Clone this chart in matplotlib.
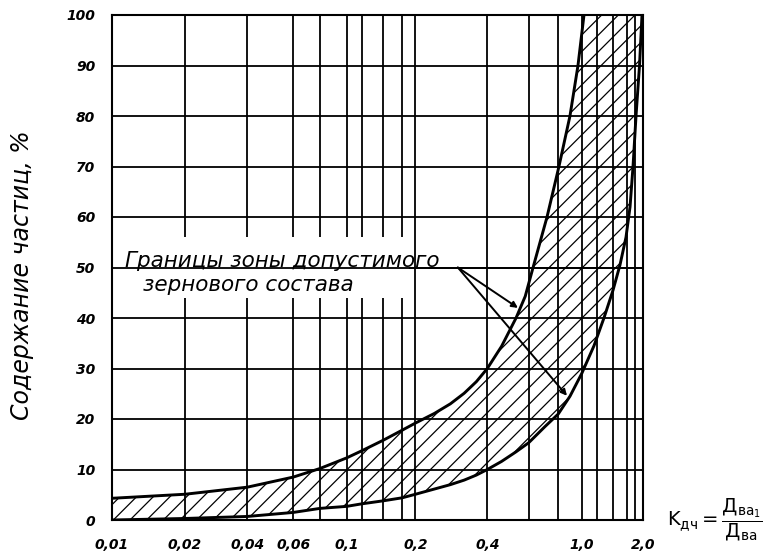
import numpy as np
import matplotlib
matplotlib.use("Agg")
import matplotlib.pyplot as plt
from matplotlib.patches import Rectangle

# boundary curves of the permissible zone
upper_x = [0.01, 0.02, 0.04, 0.06, 0.08, 0.1, 0.12, 0.15, 0.18, 0.2, 0.24, 0.28, 0.32,
           0.36, 0.4, 0.46, 0.53, 0.58, 0.626, 0.717, 0.805, 0.894, 0.965, 1.028]
upper_y = [4.3, 5.1, 6.5, 8.5, 10.2, 12.3, 13.7, 15.8, 17.8, 19.2, 21.1, 23.0, 25.1,
           27.4, 30, 34.4, 40, 44.3, 50, 60, 70, 80, 90, 100]

lower_x = [0.01, 0.02, 0.04, 0.06, 0.08, 0.1, 0.12, 0.15, 0.18, 0.2, 0.28, 0.32, 0.36,
           0.4, 0.46, 0.53, 0.6, 0.703, 0.8, 0.894, 1.0, 1.161, 1.285, 1.4, 1.5, 1.592,
           1.68, 1.751, 1.823, 1.906, 1.967]
lower_y = [0, 0.3, 0.7, 1.5, 2.3, 2.7, 3.2, 3.8, 4.4, 5.1, 7.0, 7.9, 8.9,
           10, 11.6, 13.5, 15.3, 18.5, 21, 24.5, 29, 34.5, 40, 45.5, 50.5, 56,
           62, 70, 80, 90, 100]

x_major = [0.01, 0.02, 0.04, 0.06, 0.1, 0.2, 0.4, 1.0, 2.0]
x_major_labels = ['0,01', '0,02', '0,04', '0,06', '0,1', '0,2', '0,4', '1,0', '2,0']
x_minor = [0.08, 0.12, 0.15, 0.18, 0.6, 0.8, 1.2, 1.4, 1.6, 1.8]
y_ticks = [0, 10, 20, 30, 40, 50, 60, 70, 80, 90, 100]

# the hand-drawn scale is only roughly logarithmic: map each grid value
# to where it sits on the sheet (fraction of axis width)
scale_vals = [0.01, 0.02, 0.04, 0.06, 0.08, 0.1, 0.12, 0.15, 0.18, 0.2, 0.4, 0.6, 0.8,
              1.0, 1.2, 1.4, 1.6, 1.8, 2.0]
scale_frac = [0, 0.1374, 0.2547, 0.3412, 0.3915, 0.4417, 0.4700, 0.5106, 0.5464, 0.5712,
              0.7064, 0.7843, 0.8400, 0.8841, 0.9123, 0.9430, 0.9684, 0.9844, 1.0]
lv = np.log10(scale_vals)
sf = np.array(scale_frac)


def fwd(x):
    x = np.clip(np.asarray(x, dtype=float), 1e-6, None)
    return np.interp(np.log10(x), lv, sf)


def inv(f):
    return 10 ** np.interp(np.asarray(f, dtype=float), sf, lv)


plt.rcParams['hatch.linewidth'] = 0.9
fig = plt.figure(figsize=(7.7, 5.54), dpi=100)
ax = fig.add_axes([112 / 770, 1 - 520 / 554, 531.3 / 770, 505 / 554])
ax.set_xscale('function', functions=(fwd, inv))

# hatched zone between the two boundaries
poly_x = np.concatenate([upper_x, lower_x[::-1]])
poly_y = np.concatenate([upper_y, lower_y[::-1]])
ax.fill(poly_x, poly_y, facecolor='none', edgecolor='black', hatch='//', linewidth=0, zorder=1.5)

ax.plot(upper_x, upper_y, color='black', lw=2.1, zorder=3)
ax.plot(lower_x, lower_y, color='black', lw=2.1, zorder=3)

ax.set_xlim(0.01, 2.0)
ax.set_ylim(0, 100)
ax.set_xticks(x_major)
ax.set_xticklabels(x_major_labels)
ax.set_xticks(x_minor, minor=True)
ax.set_yticks(y_ticks)
ax.set_yticklabels([str(v) for v in y_ticks])

ax.set_axisbelow(True)
ax.grid(True, which='both', color='black', lw=1.3)
ax.tick_params(which='both', length=0)
ax.tick_params(axis='x', pad=13)
ax.tick_params(axis='y', pad=12)
for lab in ax.get_xticklabels() + ax.get_yticklabels():
    lab.set_fontstyle('italic')
    lab.set_fontweight('bold')
    lab.set_fontsize(10)
for sp in ax.spines.values():
    sp.set_linewidth(1.5)

# blank patch behind the caption, grid line at 50 stays
ax.add_patch(Rectangle((0, 0.4396), 0.559, 0.1208, transform=ax.transAxes,
                       facecolor='white', edgecolor='none', zorder=1))
ax.axhline(50, color='black', lw=1.3, zorder=1.2)

ax.text(0.0245, 0.501, 'Границы зоны допустимого', transform=ax.transAxes,
        fontsize=15.5, fontstyle='italic', ha='left', va='baseline', zorder=4)
ax.text(0.058, 0.4535, 'зернового состава', transform=ax.transAxes,
        fontsize=15.5, fontstyle='italic', ha='left', va='baseline', zorder=4)

arrow = dict(arrowstyle='-|>', color='black', lw=1.4, mutation_scale=9, shrinkA=0, shrinkB=0)
ax.annotate('', xy=(0.54, 42), xytext=(0.301, 50), arrowprops=arrow, zorder=4)
ax.annotate('', xy=(0.869, 24.6), xytext=(0.301, 50), arrowprops=arrow, zorder=4)

fig.text(22 / 770, 1 - 275 / 554, 'Содержание частиц, %', rotation=90,
         ha='center', va='center', fontsize=17, fontstyle='italic')

ax.text(1.045, 0.0, r'$\mathregular{K_{дч}=\dfrac{Д_{ва_1}}{Д_{ва}}}$', transform=ax.transAxes,
        ha='left', va='center', fontsize=14)

fig.savefig('out.png', dpi=100)
